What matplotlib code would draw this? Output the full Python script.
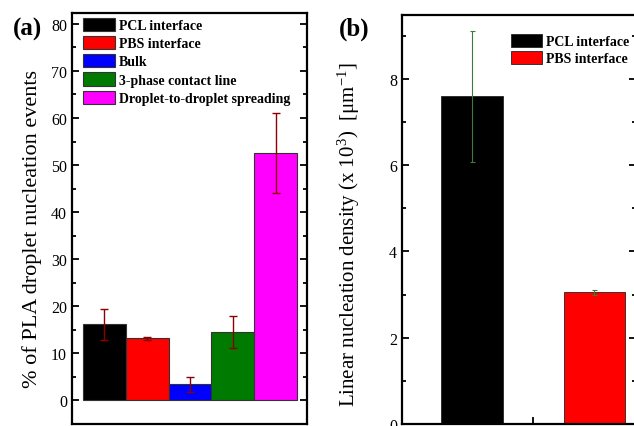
import matplotlib
matplotlib.use("Agg")
import matplotlib.pyplot as plt
from matplotlib.ticker import MultipleLocator

plt.rcParams['font.family'] = ['Liberation Serif', 'DejaVu Serif']
plt.rcParams['mathtext.fontset'] = 'stix'

# Panel (a) data
cats_a = ["PCL interface", "PBS interface", "Bulk", "3-phase contact line",
          "Droplet-to-droplet spreading"]
vals_a = [16.2, 13.2, 3.4, 14.5, 52.6]
errs_a = [3.3, 0.3, 1.6, 3.4, 8.5]
cols_a = ["#000000", "#ff0000", "#0000ff", "#007a00", "#ff00ff"]

# Panel (b) data
cats_b = ["PCL interface", "PBS interface"]
vals_b = [7.6, 3.05]
errs_b = [1.52, 0.05]
cols_b = ["#000000", "#ff0000"]

W, H = 634, 427
fig = plt.figure(figsize=(W / 100, H / 100), dpi=100)

def ax_rect(l, r, t, b):
    return [l / W, 1 - b / H, (r - l) / W, (b - t) / H]

tick_fs = 11.5
leg_fs = 10

def style(ax):
    for s in ax.spines.values():
        s.set_linewidth(1.6)
    ax.tick_params(which='both', direction='in', right=True, top=False,
                   labelsize=tick_fs, width=1.3)
    ax.tick_params(which='major', length=5)
    ax.tick_params(which='minor', length=3)

# ---- Panel (a)
ax1 = fig.add_axes(ax_rect(72, 307, 14, 425))
x_a = list(range(1, len(vals_a) + 1))
for i in range(len(vals_a)):
    ax1.bar(x_a[i], vals_a[i], width=1.0, color=cols_a[i], edgecolor='#333333',
            linewidth=0.8, label=cats_a[i], zorder=2)
ax1.errorbar(x_a, vals_a, yerr=errs_a, fmt='none', ecolor='#8b0000',
             elinewidth=1.0, capsize=3.0, capthick=1.0, zorder=3)
ax1.set_xlim(0.244, 5.73)
ax1.set_ylim(-5, 82.3)
ax1.yaxis.set_major_locator(MultipleLocator(10))
ax1.yaxis.set_minor_locator(MultipleLocator(5))
ax1.set_xticks([])
style(ax1)
ax1.set_ylabel("% of PLA droplet nucleation events", fontsize=16)
ax1.yaxis.set_label_coords(-30 / 235, 0.477)
ax1.legend(loc='upper left', bbox_to_anchor=((83 - 72) / 235, 1 - 4.5 / 411),
           frameon=False, borderaxespad=0, borderpad=0,
           prop={'weight': 'bold', 'size': leg_fs},
           handlelength=2.3, handleheight=1.1, handletextpad=0.3,
           labelspacing=0.28)
fig.text(27 / W, 1 - 29 / H, "(a)", fontsize=18, fontweight='bold',
         ha='center', va='center')

# ---- Panel (b)
ax2 = fig.add_axes(ax_rect(402, 636, 16, 425))
x_b = [1, 2]
for i in range(len(vals_b)):
    ax2.bar(x_b[i], vals_b[i], width=0.5, color=cols_b[i], edgecolor='#222222',
            linewidth=0.6, label=cats_b[i], zorder=2)
ax2.errorbar(x_b, vals_b, yerr=errs_b, fmt='none', ecolor='#3d7a3d',
             elinewidth=0.8, capsize=1.8, capthick=0.8, zorder=3)
ax2.set_xlim(0.429, 2.339)
ax2.set_ylim(0, 9.48)
ax2.yaxis.set_major_locator(MultipleLocator(2))
ax2.yaxis.set_minor_locator(MultipleLocator(1))
ax2.set_xticks([1.5])
ax2.set_xticklabels([])
style(ax2)
ax2.tick_params(axis='x', length=5)
ax2.set_ylabel("Linear nucleation density (x 10$^{\\mathregular{3}}$)  [μm$^{\\mathregular{-1}}$]",
               fontsize=15)
ax2.yaxis.set_label_coords(-40 / 234, 0.467)
ax2.legend(loc='upper left', bbox_to_anchor=((511 - 402) / 234, 1 - 18.5 / 409),
           frameon=False, borderaxespad=0, borderpad=0,
           prop={'weight': 'bold', 'size': leg_fs},
           handlelength=2.2, handleheight=1.1, handletextpad=0.3,
           labelspacing=0.2)
fig.text(354 / W, 1 - 29 / H, "(b)", fontsize=18, fontweight='bold',
         ha='center', va='center')

fig.savefig("out.png", dpi=100)
